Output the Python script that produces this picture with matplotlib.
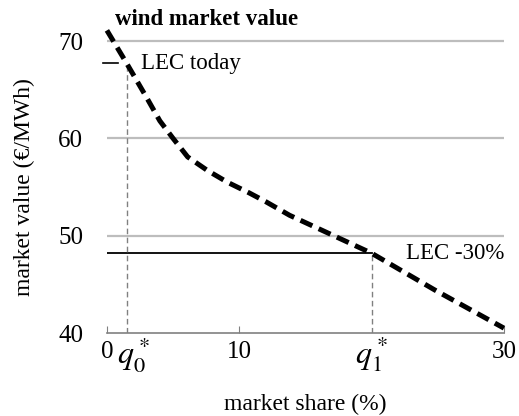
import numpy as np
import matplotlib
matplotlib.use("Agg")
import matplotlib.pyplot as plt

plt.rcParams['font.family'] = ['Liberation Serif', 'DejaVu Serif']
plt.rcParams['mathtext.fontset'] = 'stix'

# market value curve
share = [0, 1.5, 3, 4, 5, 6.1, 7.6, 9.1, 10.75, 12, 13.8, 17.3, 20, 24.8, 30]
value = [71.1, 67.7, 64.2, 61.8, 60.0, 58.1, 56.7, 55.5, 54.4, 53.5, 52.1, 49.9, 48.2, 44.4, 40.5]

lec_today = 67.7
lec_cut = 48.2
q0 = 1.5
q1 = 20

yticks = [40, 50, 60, 70]

fig = plt.figure(figsize=(5.19, 4.16), dpi=100)
ax = fig.add_axes([0.206, 0.1995, 0.765, 0.7485])
ax.set_xlim(0, 30)
ax.set_ylim(40, 72)

for y in [50, 60, 70]:
    ax.plot([0, 30], [y, y], color='#bdbdbd', lw=1.6, zorder=1)

ax.plot(share, value, color='black', lw=3.6, ls=(0, (2.6, 1.4)), zorder=4, clip_on=False)

# LEC lines
ax.plot([-0.3, 0.8], [lec_today, lec_today], color='black', lw=1.2, clip_on=False)
ax.plot([0, q1], [lec_cut, lec_cut], color='black', lw=1.3, zorder=2)
ax.plot([q0, q0], [40, lec_today], color='#808080', lw=1.0, ls=(0, (4, 2.5)), zorder=2)
ax.plot([q1, q1], [40, lec_cut], color='#808080', lw=1.0, ls=(0, (4, 2.5)), zorder=2)

ax.text(2.6, lec_today, 'LEC today', fontsize=16.5, va='center', ha='left')
ax.text(30, lec_cut, 'LEC -30%', fontsize=16.5, va='center', ha='right')
ax.text(0.6, 72.2, 'wind market value', fontsize=16.5, fontweight='bold', va='center', ha='left')

for s in ['top', 'right', 'left']:
    ax.spines[s].set_visible(False)
ax.spines['bottom'].set_color('#808080')
ax.spines['bottom'].set_linewidth(1.2)

ax.set_yticks(yticks)
ax.set_yticklabels([str(t) for t in yticks], fontsize=18)
ax.tick_params(axis='y', length=0, pad=17)

ax.set_xticks([0, 10, 30])
ax.set_xticklabels(['0', '10', '30'], fontsize=18)
ax.tick_params(axis='x', direction='in', length=5, color='#808080', pad=6)
ax.text(q0 + 0.5, 39.8, r'$q_0^*$', fontsize=23, ha='center', va='top')
ax.text(q1, 39.8, r'$q_1^*$', fontsize=23, ha='center', va='top')

ax.set_xlabel('market share (%)', fontsize=17, labelpad=22)
ax.set_ylabel('market value (€/MWh)', fontsize=17)
ax.yaxis.set_label_coords(-0.18, 0.469)

fig.savefig('out.png', dpi=100)
